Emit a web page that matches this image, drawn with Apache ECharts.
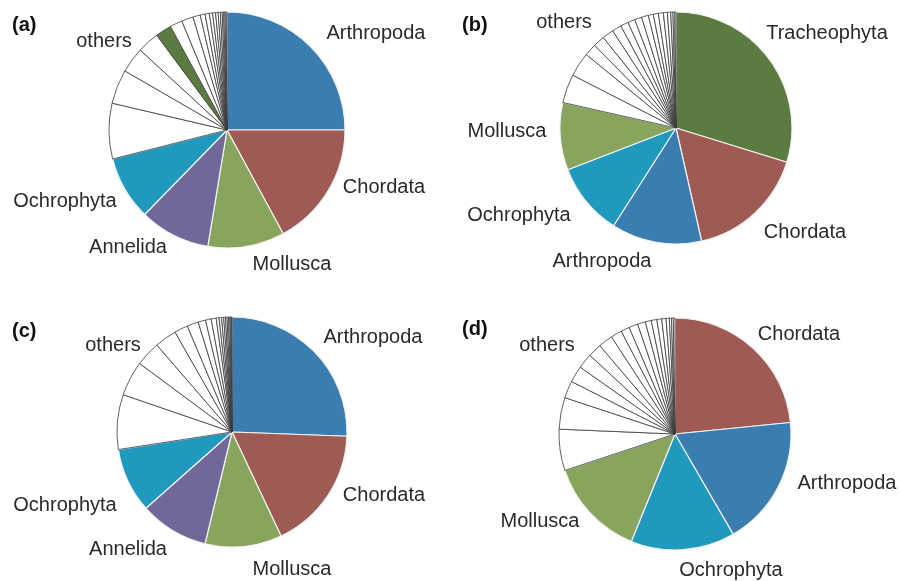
<!DOCTYPE html>
<html><head><meta charset="utf-8">
<script src="https://cdn.jsdelivr.net/npm/echarts@6/dist/echarts.min.js"></script>
<style>html,body{margin:0;padding:0;background:#fff}#c{width:901px;height:581px}</style>
</head><body><div id="c"></div>
<script>
// Panel (a)
const namesA = ['Arthropoda','Chordata','Mollusca','Annelida','Ochrophyta'];
const valuesA = [25.0, 17.1, 10.5, 9.7, 8.75];
const othersA = [7.6, 4.7, 3.5, 3.0, 2.2, 1.7, 1.6, 1.0, 0.67, 0.58, 0.45, 0.4, 0.35, 0.3, 0.25, 0.2, 0.18, 0.15, 0.12];
const greenIndexA = 4; // position of Tracheophyta within others of (a)
// Panel (b)
const namesB = ['Tracheophyta','Chordata','Arthropoda','Ochrophyta','Mollusca'];
const valuesB = [29.8, 16.7, 12.6, 10.1, 9.4];
const othersB = [4.0, 3.4, 1.7, 1.6, 1.6, 1.3, 1.1, 1.0, 1.0, 0.95, 0.7, 0.7, 0.7, 0.55, 0.47, 0.3, 0.25, 0.17];
// Panel (c)
const namesC = ['Arthropoda','Chordata','Mollusca','Annelida','Ochrophyta'];
const valuesC = [25.6, 17.4, 10.8, 9.7, 9.1];
const othersC = [7.7, 4.9, 3.5, 3.1, 1.9, 1.6, 1.05, 0.8, 0.7, 0.4, 0.35, 0.3, 0.25, 0.22, 0.2, 0.18, 0.15, 0.1, 0.05];
// Panel (d)
const namesD = ['Chordata','Arthropoda','Ochrophyta','Mollusca'];
const valuesD = [23.4, 18.2, 14.5, 13.75];
const othersD = [5.75, 4.4, 2.4, 2.3, 2.1, 1.9, 2.0, 1.55, 1.2, 1.25, 1.1, 0.83, 0.78, 0.67, 0.6, 0.45, 0.3, 0.25, 0.23];

const palette = {
  Arthropoda: '#3a7db0', Chordata: '#a05a54', Mollusca: '#87a55c',
  Annelida: '#70689a', Ochrophyta: '#1f99be', Tracheophyta: '#5b7b41'
};

function buildData(names, values, others, greenIdx) {
  const d = names.map((n, i) => ({
    name: n, value: values[i],
    itemStyle: { color: palette[n], borderColor: '#f2f2f2', borderWidth: 1.2 }
  }));
  others.forEach((v, i) => {
    if (greenIdx === i) {
      d.push({ name: 'Tracheophyta', value: v, itemStyle: { color: palette.Tracheophyta, borderColor: '#444', borderWidth: 0.8 } });
    } else {
      d.push({ name: 'other ' + (i + 1), value: v, itemStyle: { color: '#ffffff', borderColor: '#3a3a3a', borderWidth: 0.8 } });
    }
  });
  return d;
}

function pie(center, r, data) {
  return {
    type: 'pie', center: center, radius: [0, r], startAngle: 90, clockwise: true,
    avoidLabelOverlap: false, silent: true, animation: false,
    label: { show: false }, labelLine: { show: false },
    emphasis: { disabled: true }, data: data
  };
}

const labelFont = { fontFamily: 'Liberation Sans, Arial, sans-serif', fontSize: 20, fill: '#2a2a2a' };
function txt(s, x, y) {
  return { type: 'text', x: x, y: y, style: Object.assign({ text: s, align: 'center', verticalAlign: 'middle' }, labelFont) };
}
function head(s, x, y) {
  return { type: 'text', x: x, y: y, style: { text: s, align: 'left', verticalAlign: 'middle', fontFamily: 'Liberation Sans, Arial, sans-serif', fontSize: 20, fontWeight: 'bold', fill: '#111' } };
}

const chart = echarts.init(document.getElementById('c'), null, { renderer: 'canvas' });
chart.setOption({
  backgroundColor: '#fff',
  animation: false,
  series: [
    pie([227, 130], 118, buildData(namesA, valuesA, othersA, greenIndexA)),
    pie([676, 128], 116, buildData(namesB, valuesB, othersB, -1)),
    pie([232, 432], 115, buildData(namesC, valuesC, othersC, -1)),
    pie([675, 434], 116, buildData(namesD, valuesD, othersD, -1))
  ],
  graphic: [
    head('(a)', 12, 25), head('(b)', 462, 25), head('(c)', 12, 331), head('(d)', 462, 329),
    txt('Arthropoda', 376, 33), txt('Chordata', 384, 187), txt('Mollusca', 292, 264),
    txt('Annelida', 128, 247), txt('Ochrophyta', 65, 201), txt('others', 104, 41),
    txt('Tracheophyta', 827, 33), txt('Chordata', 805, 232), txt('Arthropoda', 602, 261),
    txt('Ochrophyta', 519, 215), txt('Mollusca', 507, 131), txt('others', 564, 22),
    txt('Arthropoda', 373, 337), txt('Chordata', 384, 495), txt('Mollusca', 292, 569),
    txt('Annelida', 128, 549), txt('Ochrophyta', 65, 505), txt('others', 113, 345),
    txt('Chordata', 799, 334), txt('Arthropoda', 847, 483), txt('Ochrophyta', 731, 570),
    txt('Mollusca', 540, 521), txt('others', 547, 345)
  ]
});
</script></body></html>
